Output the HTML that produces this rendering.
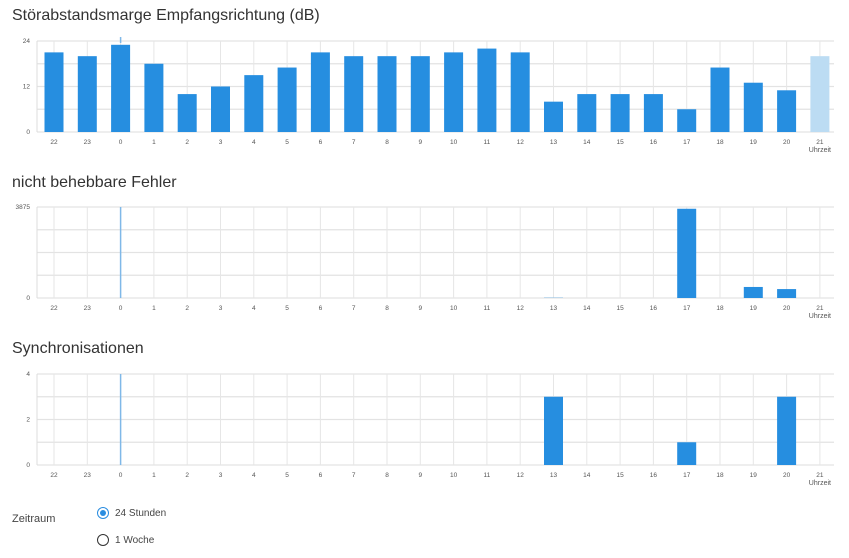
<!DOCTYPE html>
<html><head><meta charset="utf-8"><style>
body{margin:0;width:849px;height:558px;background:#fff;font-family:"Liberation Sans",sans-serif;color:#333;position:relative;overflow:hidden}
.title{position:absolute;left:12px;font-size:16px;color:#333}
svg{position:absolute;left:0}
.radio{position:absolute;font-size:10px;color:#444;display:flex;align-items:center}
.circ{width:10px;height:10px;border:1.3px solid #333;border-radius:50%;margin-right:6px;position:relative}
</style></head><body>
<div class="title" style="top:7px">Störabstandsmarge Empfangsrichtung (dB)</div>
<svg id="c1" width="849" height="160" style="top:30px"></svg>
<div class="title" style="top:174px">nicht behebbare Fehler</div>
<svg id="c2" width="849" height="160" style="top:196px"></svg>
<div class="title" style="top:340px">Synchronisationen</div>
<svg id="c3" width="849" height="160" style="top:363px"></svg>
<div style="position:absolute;left:12px;top:513px;font-size:11px;color:#444">Zeitraum</div>
<div class="radio" style="left:97px;top:507px"><span class="circ" style="border-color:#2a8de0"><span style="position:absolute;left:2px;top:2px;width:6px;height:6px;border-radius:50%;background:#2a8de0"></span></span>24 Stunden</div>
<div class="radio" style="left:97px;top:534px"><span class="circ"></span>1 Woche</div>
<script>
const categories=["22","23","0","1","2","3","4","5","6","7","8","9","10","11","12","13","14","15","16","17","18","19","20","21"];
const snrValues=[21,20,23,18,10,12,15,17,21,20,20,20,21,22,21,8,10,10,10,6,17,13,11,20];
const errValues=[0,0,0,0,0,0,0,0,0,0,0,0,0,0,0,10,0,0,0,3800,0,470,380,0];
const syncValues=[0,0,0,0,0,0,0,0,0,0,0,0,0,0,0,3,0,0,0,1,0,0,3,0];
const snrTicks=[0,12,24];
const errTicks=[0,3875];
const syncTicks=[0,2,4];
const NS="http://www.w3.org/2000/svg";
function mk(p,t,a){const e=document.createElementNS(NS,t);for(const k in a)e.setAttribute(k,a[k]);p.appendChild(e);return e;}
function draw(id,vals,ticks,max,nGrid,top,lastLight,marker,prefix){
  const s=document.getElementById(id);
  const x0=37,x1=834,yTop=top,yBot=top+91;
  const step=(x1-x0-17)/(categories.length-0.5)*1;
  const cx=i=>54+i*33.3;
  const y=v=>yBot-(v/max)*(yBot-yTop);
  for(let g=0;g<=nGrid;g++){const l=mk(s,'line',{x1:x0,x2:x1,y1:yBot-g*(yBot-yTop)/nGrid,y2:yBot-g*(yBot-yTop)/nGrid,stroke:'#e3e3e3','stroke-width':1.3});
    }
  categories.forEach((c,i)=>{const l=mk(s,'line',{x1:cx(i),x2:cx(i),y1:yTop,y2:yBot,stroke:'#e6e6e6','stroke-width':1});
    
    const t=mk(s,'text',{x:cx(i),y:yBot+12,'font-size':6.5,'text-anchor':'middle',fill:'#555'});t.textContent=c;
    });
  const u=mk(s,'text',{x:cx(23),y:yBot+20,'font-size':7,'text-anchor':'middle',fill:'#555'});u.textContent='Uhrzeit';
  
  mk(s,'line',{x1:x0,x2:x0,y1:yTop,y2:yBot,stroke:'#ddd'});
  ticks.forEach(t=>{const e=mk(s,'text',{x:30,y:y(t)+2,'font-size':6.5,'text-anchor':'end',fill:'#555'});e.textContent=t;
    });
  vals.forEach((v,i)=>{if(v<=0)return;const h=yBot-y(v);
    const r=mk(s,'rect',{x:cx(i)-9.5,y:y(v),width:19,height:h,fill:(lastLight&&i===vals.length-1)?'#bcdcf3':'#268ee0'});
    });
  if(marker){const m=mk(s,'line',{x1:cx(2),x2:cx(2),y1:yTop,y2:yBot,stroke:'#7fb8e8','stroke-width':1.5});
    }
  else{mk(s,'line',{x1:cx(2),x2:cx(2),y1:yTop-4,y2:yTop+2,stroke:'#7fb8e8','stroke-width':1.5});}
}
draw('c1',snrValues,snrTicks,24,4,11,true,false,'snr');
draw('c2',errValues,errTicks,3875,4,11,false,true,'err');
draw('c3',syncValues,syncTicks,4,4,11,false,true,'sync');
</script>
</body></html>
